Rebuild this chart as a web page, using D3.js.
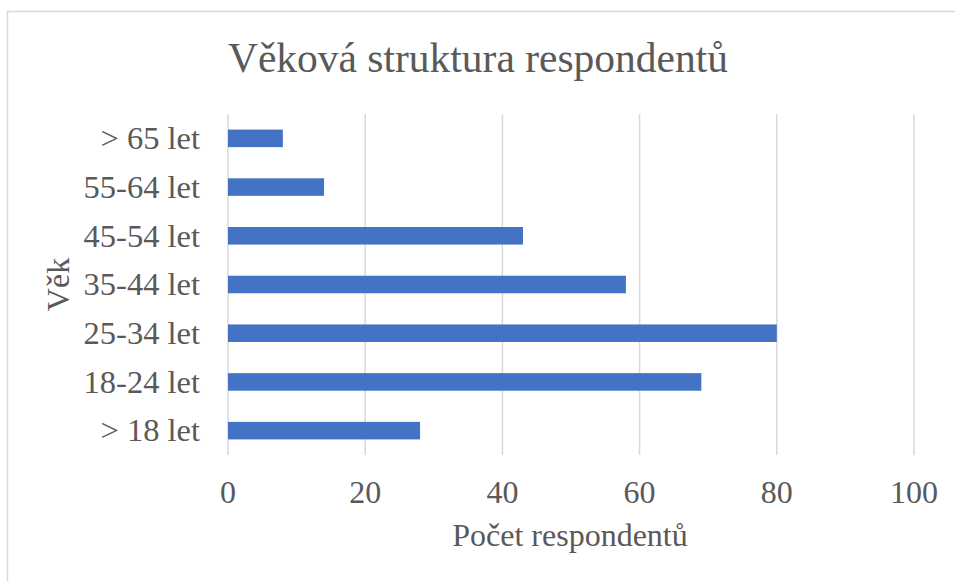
<!DOCTYPE html>
<html>
<head>
<meta charset="utf-8">
<script src="https://cdn.jsdelivr.net/npm/d3@7"></script>
<style>
    body { margin: 0; background: #fff; }
    text { font-family: "Liberation Serif", "Times New Roman", serif; fill: #595959; }
</style>
</head>
<body>
<div id="chart"></div>
<script>
const chartTitle = 'Věková struktura respondentů';
const xTitle = 'Počet respondentů';
const yTitle = 'Věk';

// bottom to top, as in the picture
const ageGroups = ['> 18 let', '18-24 let', '25-34 let', '35-44 let', '45-54 let', '55-64 let', '> 65 let'];
const respondents = [28, 69, 80, 58, 43, 14, 8];
const xTicks = [0, 20, 40, 60, 80, 100];

const width = 955, height = 581;
const margin = {top: 114, right: 41, bottom: 126, left: 228};

const svg = d3.select('#chart')
    .append('svg')
    .attr('width', width)
    .attr('height', height);

// chart frame
svg.append('rect')
    .attr('x', 7.5)
    .attr('y', 11.5)
    .attr('width', 960)
    .attr('height', 600)
    .attr('fill', 'none')
    .attr('stroke', '#d9d9d9')
    .attr('stroke-width', 1.5);

const x = d3.scaleLinear()
    .domain([0, 100])
    .range([margin.left, width - margin.right]);

const y = d3.scaleBand()
    .domain(ageGroups.slice().reverse())
    .range([margin.top, height - margin.bottom])
    .paddingInner(0.64)
    .paddingOuter(0.32);

// gridlines
svg.append('g')
    .selectAll('line')
    .data(xTicks)
    .enter()
    .append('line')
    .attr('x1', d => x(d))
    .attr('x2', d => x(d))
    .attr('y1', margin.top)
    .attr('y2', height - margin.bottom)
    .attr('stroke', '#d9d9d9')
    .attr('stroke-width', 1.5);

// bars
svg.append('g')
    .selectAll('rect')
    .data(ageGroups)
    .enter()
    .append('rect')
    .attr('x', x(0))
    .attr('y', d => y(d))
    .attr('width', (d, i) => x(respondents[i]) - x(0))
    .attr('height', y.bandwidth())
    .attr('fill', '#4472c4');

// x tick labels
svg.append('g')
    .selectAll('text')
    .data(xTicks)
    .enter()
    .append('text')
    .attr('x', d => x(d))
    .attr('y', 503)
    .attr('text-anchor', 'middle')
    .style('font-size', '32px')
    .text(d => d);

// category labels
svg.append('g')
    .selectAll('text')
    .data(ageGroups)
    .enter()
    .append('text')
    .attr('x', 200)
    .attr('y', d => y(d) + y.bandwidth() / 2)
    .attr('dy', '0.33em')
    .attr('text-anchor', 'end')
    .style('font-size', '32.5px')
    .text(d => d);

svg.append('text')
    .attr('x', 478)
    .attr('y', 72)
    .attr('text-anchor', 'middle')
    .style('font-size', '41.5px')
    .text(chartTitle);

svg.append('text')
    .attr('x', 570)
    .attr('y', 546)
    .attr('text-anchor', 'middle')
    .style('font-size', '32px')
    .text(xTitle);

svg.append('text')
    .attr('transform', 'translate(69,' + ((margin.top + height - margin.bottom) / 2) + ') rotate(-90)')
    .attr('text-anchor', 'middle')
    .style('font-size', '32px')
    .text(yTitle);
</script>
</body>
</html>
